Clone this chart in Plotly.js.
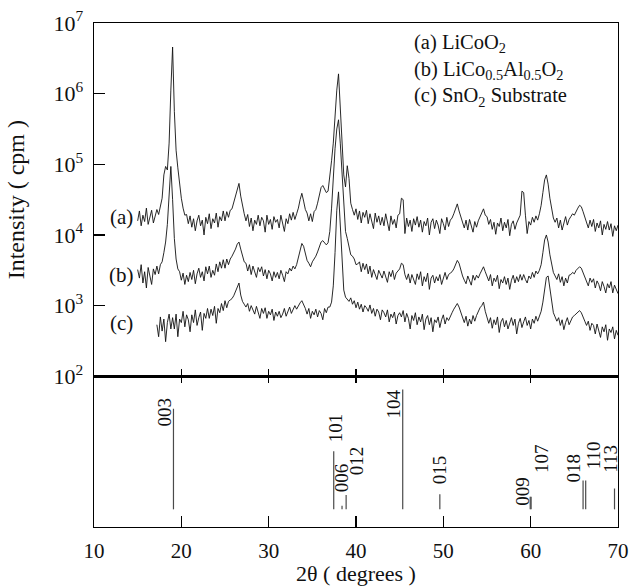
<!DOCTYPE html>
<html>
<head>
<meta charset="utf-8">
<script src="https://cdn.plot.ly/plotly-3.0.1.min.js"></script>
<style>html,body{margin:0;padding:0;background:#fff;}#chart{width:630px;height:586px;}</style>
</head>
<body>
<div id="chart"></div>
<script>
// ---- Scan sampling (2θ, degrees) ----
const scanStartAB = 15.0;
const scanStartC = 17.2;
const scanStep = 0.2;

// ---- log10 intensity (cpm) ----
const logIntensityA = [
4.20,4.34,4.13,4.28,4.19,4.38,4.15,4.27,4.35,4.17,
4.26,4.36,4.29,4.42,4.52,4.85,4.97,4.92,5.30,6.05,
6.66,5.75,5.20,4.95,4.70,4.52,4.38,4.28,4.29,4.16,
4.27,4.11,4.23,4.06,4.20,4.28,4.13,4.21,4.00,4.25,
4.16,4.30,4.09,4.23,4.17,4.31,4.11,4.26,4.20,4.34,
4.20,4.33,4.25,4.35,4.37,4.46,4.52,4.64,4.73,4.55,
4.40,4.30,4.20,4.29,4.12,4.24,4.06,4.21,4.15,4.28,
4.13,4.25,4.20,4.04,4.28,4.15,4.22,4.08,4.26,4.18,
4.22,4.10,4.28,4.18,4.05,4.23,4.16,4.30,4.21,4.32,
4.22,4.30,4.38,4.50,4.59,4.48,4.36,4.31,4.20,4.30,
4.19,4.33,4.36,4.45,4.58,4.67,4.70,4.64,4.60,4.62,
4.80,5.05,5.30,5.70,6.05,6.28,5.75,5.30,4.85,4.68,
4.98,4.80,4.45,4.36,4.28,4.37,4.22,4.34,4.17,4.32,
4.25,4.35,4.16,4.30,4.21,4.09,4.31,4.18,4.27,4.14,
4.25,4.13,4.30,4.18,4.06,4.27,4.15,4.22,4.10,4.28,
4.30,4.52,4.50,4.02,4.24,4.12,4.21,4.05,4.23,4.14,
4.26,4.11,4.21,4.04,4.19,4.13,4.24,4.00,4.18,4.23,
4.09,4.21,4.14,4.02,4.23,4.16,4.07,4.25,4.12,4.21,
4.24,4.30,4.38,4.44,4.34,4.27,4.20,4.10,4.21,4.07,
4.22,4.13,4.04,4.19,4.11,4.20,4.26,4.31,4.37,4.28,
4.26,4.15,4.22,4.08,4.18,4.01,4.17,4.12,4.24,4.06,
4.18,4.10,4.22,3.99,4.15,4.20,4.08,4.17,4.22,4.28,
4.62,4.60,4.28,4.02,4.19,4.14,4.25,4.18,4.27,4.21,
4.30,4.42,4.60,4.78,4.85,4.72,4.52,4.35,4.24,4.18,
4.24,4.10,4.21,4.07,4.17,4.26,4.14,4.22,4.26,4.30,
4.28,4.34,4.38,4.42,4.40,4.33,4.26,4.18,4.10,4.21,
4.12,4.22,4.05,4.17,4.10,4.20,4.00,4.15,4.08,4.19,
4.07,4.16,3.98,4.13,4.06,4.14
];
const logIntensityB = [
3.51,3.39,3.58,3.32,3.48,3.25,3.54,3.43,3.30,3.52,
3.44,3.56,3.45,3.58,3.62,3.75,3.90,4.15,4.55,4.97,
4.50,3.95,3.66,3.52,3.48,3.36,3.46,3.30,3.43,3.34,
3.47,3.37,3.50,3.31,3.45,3.53,3.40,3.48,3.35,3.55,
3.45,3.56,3.40,3.50,3.43,3.59,3.48,3.62,3.53,3.65,
3.53,3.66,3.58,3.66,3.70,3.74,3.80,3.87,3.90,3.80,
3.70,3.62,3.60,3.49,3.58,3.44,3.56,3.49,3.40,3.54,
3.48,3.55,3.42,3.51,3.38,3.50,3.45,3.35,3.48,3.40,
3.47,3.38,3.50,3.43,3.34,3.48,3.45,3.53,3.49,3.56,
3.52,3.58,3.68,3.80,3.88,3.84,3.72,3.64,3.60,3.55,
3.62,3.66,3.70,3.76,3.84,3.90,3.92,3.88,3.86,3.89,
4.05,4.38,4.85,5.22,5.50,5.63,5.30,4.85,4.35,4.05,
3.95,3.85,3.72,3.70,3.66,3.58,3.59,3.62,3.48,3.60,
3.51,3.59,3.45,3.56,3.40,3.51,3.44,3.37,3.50,3.43,
3.39,3.49,3.42,3.33,3.48,3.41,3.50,3.37,3.46,3.50,
3.52,3.60,3.58,3.44,3.37,3.45,3.32,3.44,3.37,3.30,
3.45,3.37,3.48,3.28,3.41,3.34,3.46,3.23,3.39,3.43,
3.32,3.41,3.35,3.44,3.30,3.39,3.47,3.37,3.44,3.46,
3.48,3.52,3.58,3.64,3.60,3.50,3.42,3.36,3.31,3.42,
3.35,3.29,3.43,3.36,3.43,3.39,3.45,3.50,3.55,3.48,
3.42,3.35,3.44,3.28,3.39,3.34,3.43,3.24,3.37,3.32,
3.41,3.30,3.39,3.23,3.36,3.43,3.32,3.41,3.34,3.44,
3.36,3.44,3.37,3.32,3.42,3.38,3.47,3.40,3.49,3.45,
3.50,3.58,3.75,3.93,4.00,3.90,3.72,3.56,3.47,3.42,
3.37,3.45,3.33,3.41,3.28,3.39,3.32,3.43,3.44,3.47,
3.45,3.50,3.52,3.55,3.53,3.46,3.40,3.33,3.28,3.39,
3.33,3.38,3.25,3.35,3.30,3.21,3.34,3.27,3.18,3.31,
3.25,3.34,3.18,3.29,3.22,3.17
];
const logIntensityC = [
2.73,2.56,2.84,2.64,2.81,2.49,2.76,2.88,2.67,2.83,
2.67,2.88,2.56,2.81,2.76,2.92,2.70,2.87,2.80,2.63,
2.87,2.76,2.94,2.72,2.83,2.91,2.65,2.89,2.82,2.96,
2.82,2.95,2.86,2.99,2.75,2.96,2.90,3.03,2.93,3.07,
2.97,3.06,3.08,3.10,3.14,3.20,3.28,3.32,3.15,3.06,
3.02,2.98,3.03,2.92,3.00,2.95,2.88,2.99,2.91,2.82,
2.96,2.89,2.97,2.82,2.92,2.87,2.95,2.79,2.91,2.85,
2.92,2.83,2.88,2.96,2.85,2.91,2.98,2.89,2.95,3.00,
2.95,3.00,3.04,3.07,3.02,2.96,2.88,2.96,2.82,2.92,
2.87,2.95,2.84,2.93,2.89,2.80,2.96,2.90,2.98,2.98,
3.05,3.28,3.75,4.35,4.61,4.15,3.50,3.22,3.12,3.08,
3.06,3.11,3.02,3.07,2.97,3.05,2.95,3.02,2.91,3.00,
2.97,2.92,3.01,2.89,2.96,2.85,2.95,2.91,2.80,2.94,
2.90,2.84,2.94,2.77,2.88,2.83,2.91,2.74,2.86,2.90,
2.84,2.93,2.77,2.89,2.82,2.67,2.86,2.79,2.90,2.73,
2.84,2.77,2.88,2.66,2.81,2.86,2.73,2.83,2.63,2.80,
2.76,2.84,2.69,2.80,2.87,2.74,2.83,2.79,2.86,2.90,
2.95,3.00,3.03,2.98,2.90,2.84,2.76,2.85,2.71,2.81,
2.74,2.86,2.78,2.86,2.92,2.97,3.00,3.05,2.92,2.82,
2.75,2.83,2.68,2.80,2.73,2.84,2.62,2.77,2.82,2.70,
2.79,2.67,2.76,2.83,2.72,2.81,2.60,2.75,2.82,2.69,
2.77,2.84,2.72,2.79,2.67,2.81,2.75,2.85,2.78,2.86,
2.92,3.05,3.25,3.40,3.42,3.22,3.02,2.90,2.84,2.78,
2.83,2.72,2.80,2.66,2.76,2.83,2.73,2.80,2.84,2.86,
2.88,2.91,2.93,2.90,2.85,2.78,2.72,2.78,2.65,2.75,
2.72,2.60,2.74,2.66,2.55,2.70,2.63,2.73,2.51,2.67,
2.62,2.70,2.53,2.65,2.58
];

// ---- Reference stick pattern (LiCoO2) ----
const hklLabels = ['003','101','006','012','104','015','009','107','018','110','113'];
const hklPositions = [19.1, 37.45, 38.4, 38.87, 45.35, 49.6, 59.95, 60.05, 66.0, 66.3, 69.6];
const hklIntensity = [84, 48.5, 3, 12, 100, 12.5, 10.5, 10.5, 24, 24, 17.5];

// ---- Tick labels ----
const xTicks = [10, 20, 30, 40, 50, 60, 70];
const yTickVals = [1e2, 1e3, 1e4, 1e5, 1e6, 1e7];
const yTickText = ['10<sup>2</sup>','10<sup>3</sup>','10<sup>4</sup>','10<sup>5</sup>','10<sup>6</sup>','10<sup>7</sup>'];

// ---- Legend / curve labels ----
const sampleNames = ['(a) LiCoO<sub>2</sub>', '(b) LiCo<sub>0.5</sub>Al<sub>0.5</sub>O<sub>2</sub>', '(c) SnO<sub>2</sub> Substrate'];
const curveTags = ['(a)', '(b)', '(c)'];

// ---- layout helpers (positions, not data) ----
const labelPlace = {
  '003':[18.1,81.5], '101':[37.6,67.8], '006':[38.35,26.5], '012':[40.07,40.7],
  '104':[44.25,87.6], '015':[49.6,33.3], '009':[59.1,15.4], '107':[61.25,42.5],
  '018':[64.95,34.8], '110':[67.15,45.3], '113':[69.05,41.9]
};
const tagPlace = [[13.1,4.25],[13.1,3.43],[13.1,2.75]];
const legendPlace = [46.4, 6.33];

const FONT = '"Liberation Serif", "Times New Roman", Times, serif';
const LINE = '#111';

function grid(start, n){ const a=[]; for(let i=0;i<n;i++) a.push(+(start+i*scanStep).toFixed(2)); return a; }
const toCounts = arr => arr.map(v => Math.pow(10, v));

const traces = [
  {x: grid(scanStartAB, logIntensityA.length), y: toCounts(logIntensityA), xaxis:'x2', yaxis:'y2',
   type:'scatter', mode:'lines', line:{color:LINE, width:0.9}, name:'a', hoverinfo:'skip'},
  {x: grid(scanStartAB, logIntensityB.length), y: toCounts(logIntensityB), xaxis:'x2', yaxis:'y2',
   type:'scatter', mode:'lines', line:{color:LINE, width:0.9}, name:'b', hoverinfo:'skip'},
  {x: grid(scanStartC, logIntensityC.length), y: toCounts(logIntensityC), xaxis:'x2', yaxis:'y2',
   type:'scatter', mode:'lines', line:{color:LINE, width:0.9}, name:'c', hoverinfo:'skip'}
];
const sx=[], sy=[];
hklPositions.forEach((p,i)=>{ sx.push(p,p,null); sy.push(0,hklIntensity[i],null); });
traces.push({x:sx, y:sy, xaxis:'x', yaxis:'y', type:'scatter', mode:'lines',
  line:{color:'#4a4a4a', width:1.2}, hoverinfo:'skip', name:'ref'});

const annotations = [];
hklLabels.forEach(h=>{
  const p = labelPlace[h];
  annotations.push({x:p[0], y:p[1], xref:'x', yref:'y', text:h, showarrow:false, textangle:-90,
    font:{family:FONT, size:19, color:'#111'}, xanchor:'center', yanchor:'middle'});
});
curveTags.forEach((t,i)=>{
  annotations.push({x:tagPlace[i][0], y:tagPlace[i][1], xref:'x2', yref:'y2', text:t, showarrow:false,
    font:{family:FONT, size:21, color:'#111'}, xanchor:'center', yanchor:'middle'});
});
annotations.push({x:legendPlace[0], y:legendPlace[1], xref:'x2', yref:'y2', text:sampleNames.join('<br>'),
  showarrow:false, align:'left', font:{family:FONT, size:20.5, color:'#111'}, xanchor:'left', yanchor:'middle'});

const split = 0.299;
const axisCommon = {showgrid:false, zeroline:false, showline:true, linecolor:'#000', linewidth:1.3, mirror:true,
  tickcolor:'#000', tickwidth:1.2};
const layout = {
  width:630, height:586,
  margin:{l:94, r:12, t:23, b:59},
  paper_bgcolor:'#fff', plot_bgcolor:'#fff',
  showlegend:false,
  font:{family:FONT, color:'#111'},
  xaxis: Object.assign({}, axisCommon, {domain:[0,1], anchor:'y', range:[10,70], tickvals:xTicks,
    ticks:'inside', ticklen:11, tickfont:{family:FONT, size:21, color:'#111'}, ticklabelstandoff:4,
    title:{text:'2θ ( degrees )', font:{family:FONT, size:22, color:'#111'}, standoff:8}}),
  xaxis3: {overlaying:'x', anchor:'y', side:'top', range:[10,70], tickvals:xTicks, ticks:'inside', ticklen:7,
    tickcolor:'#000', tickwidth:1.2, showticklabels:false, showline:false, showgrid:false, zeroline:false},
  yaxis: Object.assign({}, axisCommon, {domain:[0,split], anchor:'x', range:[-14.75,111.1], ticks:'', showticklabels:false}),
  xaxis2: Object.assign({}, axisCommon, {domain:[0,1], anchor:'y2', range:[10,70], tickvals:xTicks,
    ticks:'inside', ticklen:7, showticklabels:false}),
  yaxis2: Object.assign({}, axisCommon, {domain:[split,1], anchor:'x2', type:'log', range:[2,7],
    tickvals:yTickVals, ticktext:yTickText, ticks:'inside', ticklen:11,
    tickfont:{family:FONT, size:22, color:'#111'}, ticklabelstandoff:5,
    title:{text:'Intensity ( cpm )', font:{family:FONT, size:24, color:'#111'}, standoff:22}}),
  annotations: annotations
};
// empty trace so that the top tick axis of the lower panel is drawn
traces.push({x:[10,70], y:[null,null], xaxis:'x3', yaxis:'y', type:'scatter', mode:'lines', hoverinfo:'skip'});

Plotly.newPlot('chart', traces, layout, {staticPlot:true, displayModeBar:false});
</script>
</body>
</html>
